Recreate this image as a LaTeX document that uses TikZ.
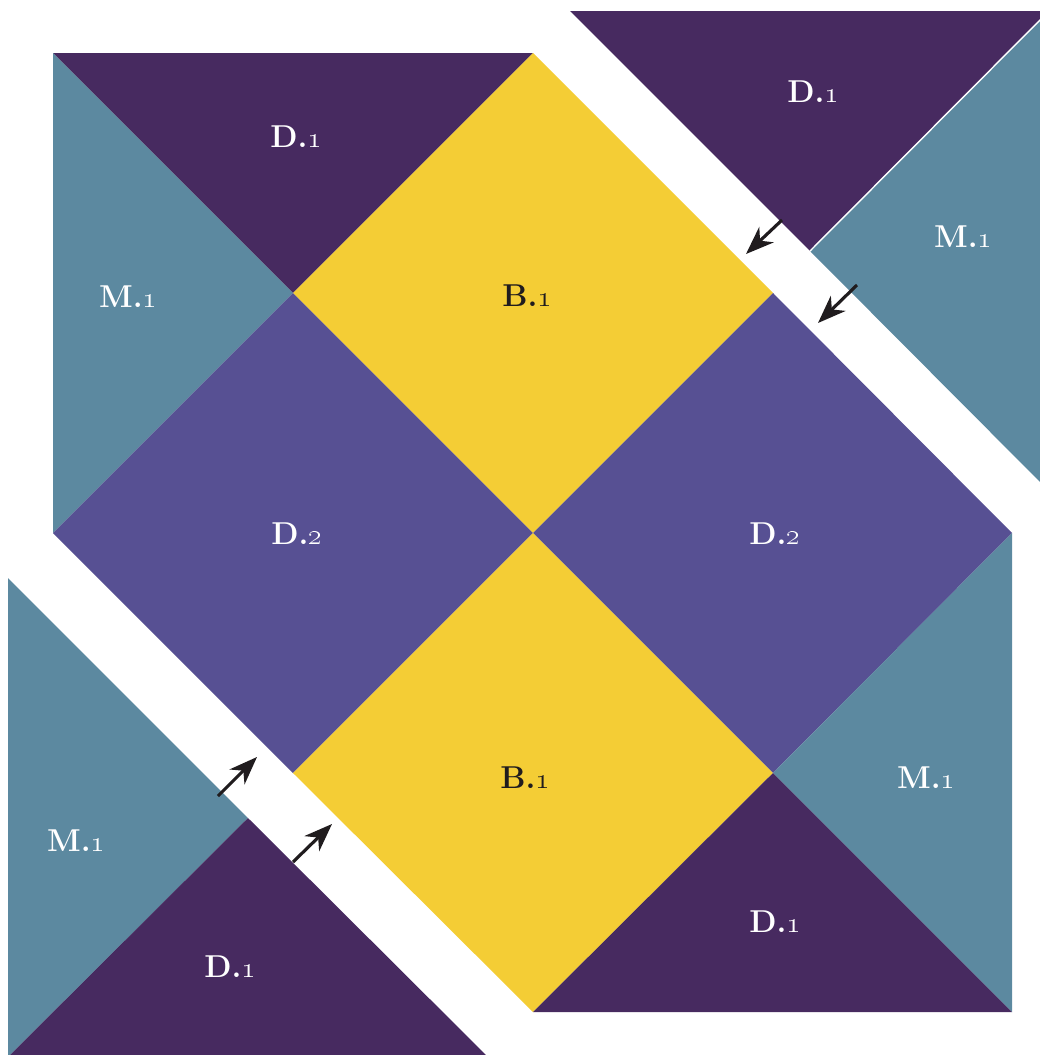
\documentclass[tikz,border=0pt]{standalone}
\usepackage{tikz}
\usetikzlibrary{arrows.meta}

\definecolor{plumdark}{RGB}{71,42,96}
\definecolor{tealgrey}{RGB}{92,137,160}
\definecolor{quiltyellow}{RGB}{244,205,53}
\definecolor{violetmid}{RGB}{87,80,147}
\definecolor{inkdark}{RGB}{32,28,30}

\begin{document}
\begin{tikzpicture}[
    x=0.02cm, y=-0.02cm,
    dpiece/.style={fill=plumdark},
    mpiece/.style={fill=tealgrey},
    bpiece/.style={fill=quiltyellow},
    vpiece/.style={fill=violetmid},
    tag/.style={font=\fontsize{18}{20}\selectfont\bfseries, text=white},
    darktag/.style={tag, text=inkdark},
    move/.style={-{Stealth[length=16pt,width=12pt,inset=5pt]}, line width=1.8pt, draw=inkdark}
]
\useasboundingbox (0,0) rectangle (1040,1055);
\clip (0,0) rectangle (1040,1055);

% Centre of the block
\fill[dpiece] (53,53) -- (533,53) -- (293,293) -- cycle;
\fill[mpiece] (53,53) -- (293,293) -- (53,533) -- cycle;
\fill[bpiece] (293,293) -- (533,53) -- (773,293) -- (533,533) -- cycle;
\fill[vpiece] (53,533) -- (293,293) -- (533,533) -- (293,773) -- cycle;
\fill[vpiece] (533,533) -- (773,293) -- (1012,533) -- (773,773) -- cycle;
\fill[bpiece] (533,533) -- (773,773) -- (533,1012) -- (293,773) -- cycle;
\fill[mpiece] (1012,533) -- (1012,1012) -- (773,773) -- cycle;
\fill[dpiece] (773,773) -- (1012,1012) -- (533,1012) -- cycle;

% Corner pulled out to the top right
\begin{scope}[shift={(37,-42)}]
  \fill[dpiece] (533,53) -- (1012,53) -- (773,293) -- cycle;
  \fill[mpiece] (773,293) -- (1012,53) -- (1012,533) -- cycle;
  \draw[white, line width=0.8pt] (1012,53) -- (773,293);
\end{scope}

% Corner pulled out to the bottom left
\begin{scope}[shift={(-45,45)}]
  \fill[mpiece] (53,533) -- (293,773) -- (53,1012) -- cycle;
  \fill[dpiece] (293,773) -- (533,1012) -- (53,1012) -- cycle;
\end{scope}

% Labels
\node[tag] (d1a) at (296,137) {D.\oldstylenums{1}};
\node[tag] (m1a) at (128,297) {M.\oldstylenums{1}};
\node[darktag] (b1a) at (527,296) {B.\oldstylenums{1}};
\node[tag] (d2a) at (297,534) {D.\oldstylenums{2}};
\node[tag] (d2b) at (775,534) {D.\oldstylenums{2}};
\node[darktag] (b1b) at (525,778) {B.\oldstylenums{1}};
\node[tag] (m1b) at (926,778) {M.\oldstylenums{1}};
\node[tag] (d1b) at (775,922) {D.\oldstylenums{1}};
\node[tag] (d1c) at (813,92) {D.\oldstylenums{1}};
\node[tag] (m1c) at (963,237) {M.\oldstylenums{1}};
\node[tag] (m1d) at (76,841) {M.\oldstylenums{1}};
\node[tag] (d1d) at (230,967) {D.\oldstylenums{1}};

% Arrows
\coordinate (tra) at (782,220);
\coordinate (trb) at (746,254);
\coordinate (trc) at (857,285);
\coordinate (trd) at (818,323);
\coordinate (bla) at (218,796);
\coordinate (blb) at (257,757);
\coordinate (blc) at (293,862);
\coordinate (bld) at (332,824);
\draw[move] (tra) -- (trb);
\draw[move] (trc) -- (trd);
\draw[move] (bla) -- (blb);
\draw[move] (blc) -- (bld);

\end{tikzpicture}
\end{document}
